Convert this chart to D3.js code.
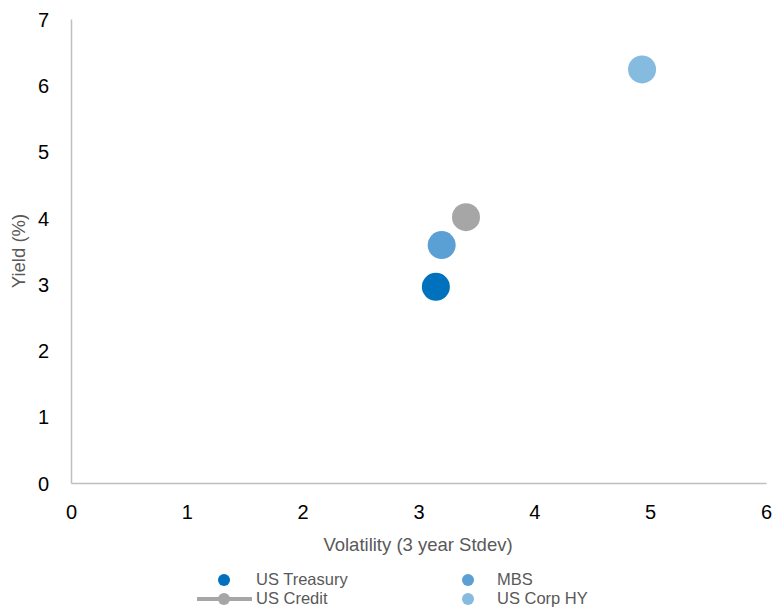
<!DOCTYPE html>
<html>
<head>
<meta charset="utf-8">
<script src="https://cdn.jsdelivr.net/npm/d3@7"></script>
<style>
  body { margin: 0; background: #fff; }
  text { font-family: "Liberation Sans", Arial, sans-serif; }
</style>
</head>
<body>
<div id="chart"></div>
<script>
// series data
let seriesNames = ['US Treasury', 'MBS', 'US Credit', 'US Corp HY'];
let volatility = [3.15, 3.20, 3.41, 4.93];
let yieldPct = [2.96, 3.59, 4.01, 6.24];
let colors = ['#0071bc', '#5aa0d4', '#a6a6a6', '#86bbe0'];

let xTicks = [0, 1, 2, 3, 4, 5, 6];
let yTicks = [0, 1, 2, 3, 4, 5, 6, 7];

let svgWidth = 777;
let svgHeight = 608;

let margin = { top: 19, right: 11, bottom: 125, left: 71 };
let width = svgWidth - margin.left - margin.right;
let height = svgHeight - margin.top - margin.bottom;

let svg = d3.select('#chart')
    .append('svg')
    .attr('width', svgWidth)
    .attr('height', svgHeight);

let chartGroup = svg.append('g')
    .attr('transform', `translate(${margin.left}, ${margin.top})`);

let x = d3.scaleLinear().domain([0, 6]).range([0, width]);
let y = d3.scaleLinear().domain([0, 7]).range([height, 0]);

// axes
let xAxis = chartGroup.append('g')
    .attr('transform', `translate(0,${height})`)
    .call(d3.axisBottom(x).tickValues(xTicks).tickSize(0).tickPadding(22).tickFormat(d3.format('d')));
let yAxis = chartGroup.append('g')
    .call(d3.axisLeft(y).tickValues(yTicks).tickSize(0).tickPadding(22).tickFormat(d3.format('d')));

[xAxis, yAxis].forEach(a => {
    a.select('.domain').attr('stroke', '#bfbfbf').attr('stroke-width', 1.5);
    a.selectAll('text').attr('font-size', 20).attr('fill', '#000')
        .style('font-family', '"Liberation Sans", Arial, sans-serif');
});
yAxis.selectAll('text').attr('dy', '0.36em');

// points
let data = seriesNames.map((n, i) => ({ name: n, x: volatility[i], y: yieldPct[i], color: colors[i] }));
chartGroup.selectAll('circle.pt')
    .data(data)
    .enter()
    .append('circle')
    .attr('class', 'pt')
    .attr('cx', d => x(d.x))
    .attr('cy', d => y(d.y))
    .attr('r', 14)
    .attr('fill', d => d.color);

// axis titles
svg.append('text')
    .attr('transform', `translate(25, 251) rotate(-90)`)
    .attr('text-anchor', 'middle')
    .attr('font-size', 18.5)
    .attr('fill', '#595959')
    .text('Yield (%)');

svg.append('text')
    .attr('x', 418)
    .attr('y', 551)
    .attr('text-anchor', 'middle')
    .attr('font-size', 18.5)
    .attr('fill', '#595959')
    .text('Volatility (3 year Stdev)');

// legend (two rows, tight like the original)
let legendPos = [
    { mx: 224, tx: 256, my: 580, ty: 585 },
    { mx: 468, tx: 497, my: 580, ty: 585 },
    { mx: 224, tx: 256, my: 599, ty: 604 },
    { mx: 468, tx: 497, my: 599, ty: 604 }
];
let legend = svg.append('g');
data.forEach((d, i) => {
    let p = legendPos[i];
    if (d.name === 'US Credit') {
        legend.append('line')
            .attr('x1', 197).attr('x2', 252)
            .attr('y1', p.my).attr('y2', p.my)
            .attr('stroke', d.color).attr('stroke-width', 4);
    }
    legend.append('circle')
        .attr('cx', p.mx).attr('cy', p.my).attr('r', 6)
        .attr('fill', d.color);
    legend.append('text')
        .attr('x', p.tx).attr('y', p.ty)
        .attr('font-size', 16.5)
        .attr('fill', '#595959')
        .text(d.name);
});
</script>
</body>
</html>
